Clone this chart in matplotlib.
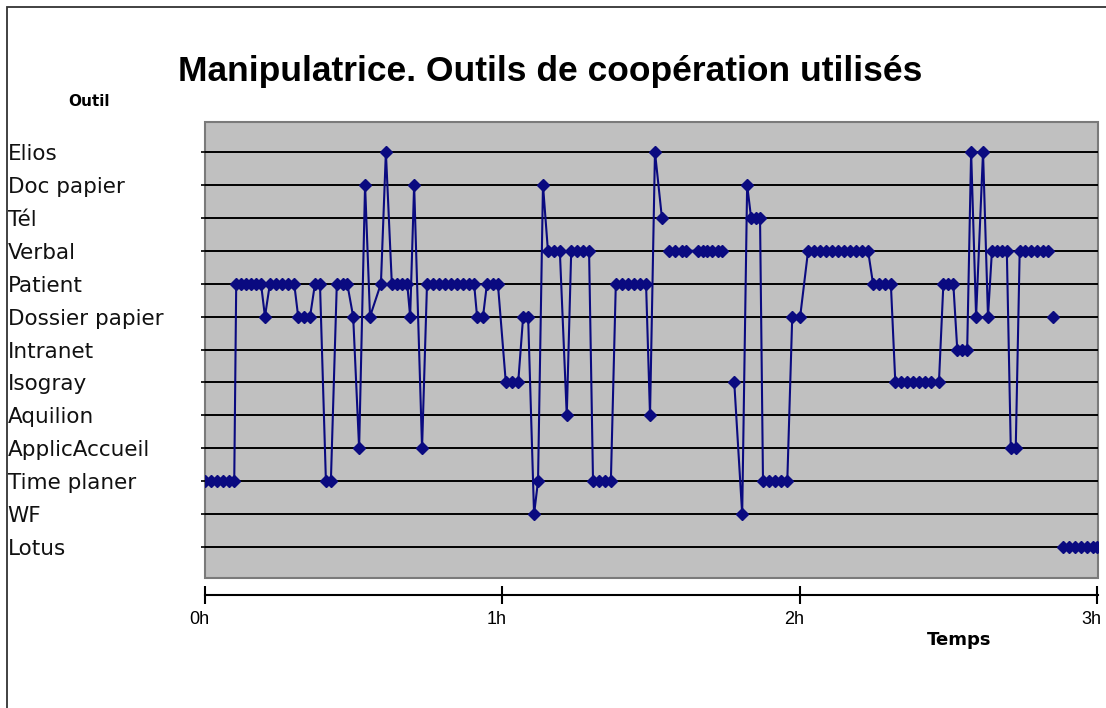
"""
Manipulatrice - outils de cooperation utilises au cours du temps
"""

import matplotlib
matplotlib.use("Agg")
import matplotlib.pyplot as plt
import matplotlib.patches as mpatches
import matplotlib.transforms as mtransforms
import numpy as np

# Categories de l'axe vertical (de bas en haut)
outils = ["Lotus", "WF", "Time planer", "ApplicAccueil", "Aquilion", "Isogray",
          "Intranet", "Dossier papier", "Patient", "Verbal", "Tél", "Doc papier", "Elios"]

# Releves : temps (minutes) et outil utilise ; None = coupure de la courbe
temps_min = [
    0.0, 1.2, 2.4, 3.6, 4.8, 5.9,
    6.3, 7.3, 8.3, 9.3, 10.3, 11.3,
    12.1,
    13.1, 14.3, 15.5, 16.7, 18.0,
    18.8, 20.0, 21.2,
    22.2, 23.2,
    24.4, 25.4,
    26.6, 27.8, 28.7,
    29.9, 31.1, 32.3, 33.3,
    35.5, 36.5,
    37.7, 38.7, 39.8, 40.8,
    41.4, 42.2, 43.8,
    44.8, 46.0, 47.2, 48.4, 49.6, 50.9, 52.1, 53.3, 54.3,
    54.9, 56.1,
    56.9, 58.1, 59.1,
    60.7, 61.9, 63.2,
    64.2, 65.2,
    66.4, 67.2, 68.2,
    69.2, 70.4, 71.6,
    73.0,
    73.9, 75.1, 76.3, 77.5,
    78.3, 79.5, 80.7, 81.9,
    82.9, 84.2, 85.4, 86.6, 87.8, 89.0,
    89.8, 90.8, 92.2,
    np.nan,
    93.6, 94.8, 96.2, 97.0, 99.4, 100.4, 101.4, 102.4, 103.6, 104.4,
    np.nan,
    106.8, 108.4, 109.4,
    110.2, 111.2, 112.0,
    112.6, 113.8, 115.0, 116.2, 117.5,
    118.5, 120.1,
    121.7, 122.9, 124.1, 125.3, 126.5, 127.7, 128.9, 130.2, 131.4, 132.6, 133.8,
    134.8, 136.0, 137.2, 138.4,
    139.3, 140.5, 141.7, 142.9, 144.1, 145.3, 146.5, 148.1,
    149.0, 150.0, 151.0,
    151.8, 152.8, 153.8,
    154.6, 155.6, 157.0, 158.0,
    158.8, 159.8, 160.8, 161.8,
    162.6, 163.6,
    164.4, 165.5, 166.7, 167.9, 169.1, 170.1,
    np.nan,
    171.1,
    np.nan,
    173.1, 174.3, 175.5, 176.7, 177.9, 179.1, 180.0,
]

outil_pts = (
    ["Time planer"] * 6
    + ["Patient"] * 6
    + ["Dossier papier"]
    + ["Patient"] * 5
    + ["Dossier papier"] * 3
    + ["Patient"] * 2
    + ["Time planer"] * 2
    + ["Patient"] * 3
    + ["Dossier papier", "ApplicAccueil", "Doc papier", "Dossier papier"]
    + ["Patient", "Elios"]
    + ["Patient"] * 4
    + ["Dossier papier", "Doc papier", "ApplicAccueil"]
    + ["Patient"] * 9
    + ["Dossier papier"] * 2
    + ["Patient"] * 3
    + ["Isogray"] * 3
    + ["Dossier papier"] * 2
    + ["WF", "Time planer", "Doc papier"]
    + ["Verbal"] * 3
    + ["Aquilion"]
    + ["Verbal"] * 4
    + ["Time planer"] * 4
    + ["Patient"] * 6
    + ["Aquilion", "Elios", "Tél"]
    + [None]
    + ["Verbal"] * 10
    + [None]
    + ["Isogray", "WF", "Doc papier"]
    + ["Tél"] * 3
    + ["Time planer"] * 5
    + ["Dossier papier"] * 2
    + ["Verbal"] * 11
    + ["Patient"] * 4
    + ["Isogray"] * 8
    + ["Patient"] * 3
    + ["Intranet"] * 3
    + ["Elios", "Dossier papier", "Elios", "Dossier papier"]
    + ["Verbal"] * 4
    + ["ApplicAccueil"] * 2
    + ["Verbal"] * 6
    + [None]
    + ["Dossier papier"]
    + [None]
    + ["Lotus"] * 7
)

heures = [0, 60, 120, 180]
heures_labels = ["0h", "1h", "2h", "3h"]

# conversion outil -> position verticale
y_pts = np.array([np.nan if o is None else outils.index(o) for o in outil_pts])
x_pts = np.array(temps_min)

W, H = 1106, 708
fig = plt.figure(figsize=(W / 100, H / 100), dpi=100)
fig.patch.set_facecolor("white")

ax = fig.add_axes([205 / W, 1 - 578 / H, (1098 - 205) / W, (578 - 122) / H])
ax.set_facecolor("#c0c0c0")
ax.patch.set_edgecolor("#7a7a7a")
ax.patch.set_linewidth(1.5)

ax.plot(x_pts, y_pts, color="#0a0a80", lw=1.5, marker="D", markersize=6.5,
        markeredgecolor="#0a0a80", zorder=3)

ax.set_xlim(0, 180.2)
ax.set_ylim(-0.94, 12.91)

# lignes horizontales par outil
ax.set_yticks(range(len(outils)))
ax.set_yticklabels(outils, fontsize=15.5, family="DejaVu Sans", color="#111111")
ax.grid(axis="y", color="black", lw=1.4, zorder=1)
ax.tick_params(axis="y", length=3, width=1.2, color="black", pad=139)
for lab in ax.get_yticklabels():
    lab.set_ha("left")

# axe des temps decale sous la zone grise
for s in ["left", "right", "top"]:
    ax.spines[s].set_visible(False)
ax.spines["bottom"].set_position(("outward", 12.5))
ax.spines["bottom"].set_linewidth(1.5)
ax.set_xticks(heures)
ax.set_xticklabels(heures_labels, fontsize=13, family="Liberation Sans")
ax.tick_params(axis="x", direction="inout", length=13, width=1.5, pad=5)
decal = mtransforms.ScaledTranslation(-6 / 100, 0, fig.dpi_scale_trans)
for lab in ax.xaxis.get_majorticklabels():
    lab.set_transform(lab.get_transform() + decal)

fig.text(550 / W, 1 - 72 / H, "Manipulatrice. Outils de coopération utilisés",
         ha="center", va="center", fontsize=25.5, fontweight="bold",
         family="Liberation Sans")
fig.text(89 / W, 1 - 101 / H, "Outil", ha="center", va="center",
         fontsize=11, fontweight="bold", family="DejaVu Sans")
fig.text(959 / W, 1 - 640 / H, "Temps", ha="center", va="center",
         fontsize=13, fontweight="bold", family="DejaVu Sans")

# cadre du graphique
cadre = mpatches.Rectangle((7 / W, -0.1), 1.2, (H - 7) / H + 0.1,
                           transform=fig.transFigure, fill=False,
                           lw=1.3, edgecolor="#333333")
fig.patches.append(cadre)

fig.savefig("out.png", dpi=100)
